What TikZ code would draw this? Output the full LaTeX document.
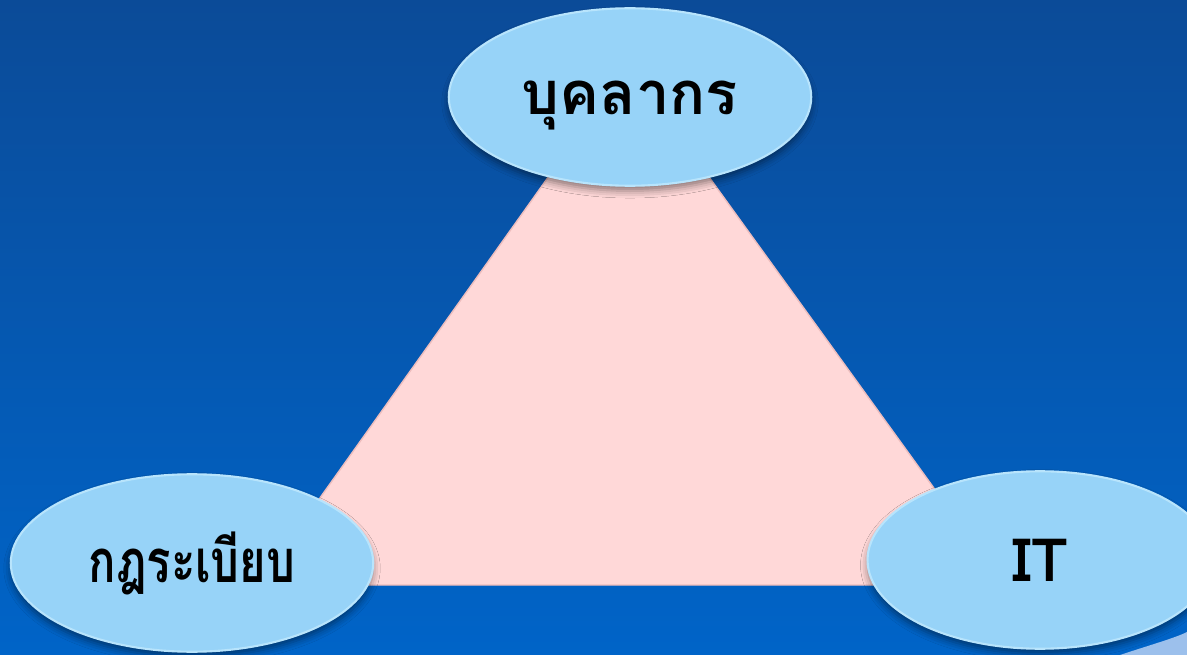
\documentclass[tikz,border=0pt]{standalone}
\usepackage{fontspec}
\newfontfamily\thaifont[Script=Thai]{Loma}
\newfontfamily\thainarrow[Script=Thai, FakeStretch=0.76]{Loma}
\usetikzlibrary{shapes.geometric, shadows.blur}
\definecolor{bgtop}{HTML}{0B4B98}
\definecolor{bgbot}{HTML}{0064C8}
\definecolor{bubble}{HTML}{97D3F8}
\definecolor{bubblerim}{HTML}{B8E4FC}
\definecolor{tripink}{HTML}{FFD8D8}
\definecolor{triedge}{HTML}{EDBDBD}
\definecolor{wedge}{HTML}{9CC0EC}

\begin{document}
\begin{tikzpicture}[x=0.02cm, y=-0.02cm,
    topic/.style={ellipse, fill=bubble, draw=bubblerim, line width=1.2pt,
      minimum width=7.25cm, minimum height=3.55cm, inner sep=0pt,
      blur shadow={shadow xshift=0pt, shadow yshift=-3pt,
        shadow blur radius=4pt, shadow opacity=45},
      font=\thaifont\bfseries\fontsize{34}{38}\selectfont, text=black}]
    % Fond degrade bleu
    \useasboundingbox (0,0) rectangle (1187,655);
    \clip (0,0) rectangle (1187,655);
    \shade[top color=bgtop, bottom color=bgbot] (0,0) rectangle (1187,655);
    \fill[wedge] (1120,655) .. controls (1150,645) and (1175,638) .. (1187,632) -- (1187,655) -- cycle;

    % Triangle rose derriere les bulles
    \fill[tripink, draw=triedge, line width=0.8pt] (628,65) -- (258,585) -- (1004,585) -- cycle;

    % Les trois bulles
    \node[topic] (staff) at (630,97) {\raisebox{-10pt}[0pt][0pt]{บุคลากร}};
    \node[topic, font=\thainarrow\bfseries\fontsize{34}{38}\selectfont] (rules) at (192,563) {กฎระเบียบ};
    \node[topic, minimum width=6.9cm] (it) at (1040,560) {IT};
\end{tikzpicture}
\end{document}
